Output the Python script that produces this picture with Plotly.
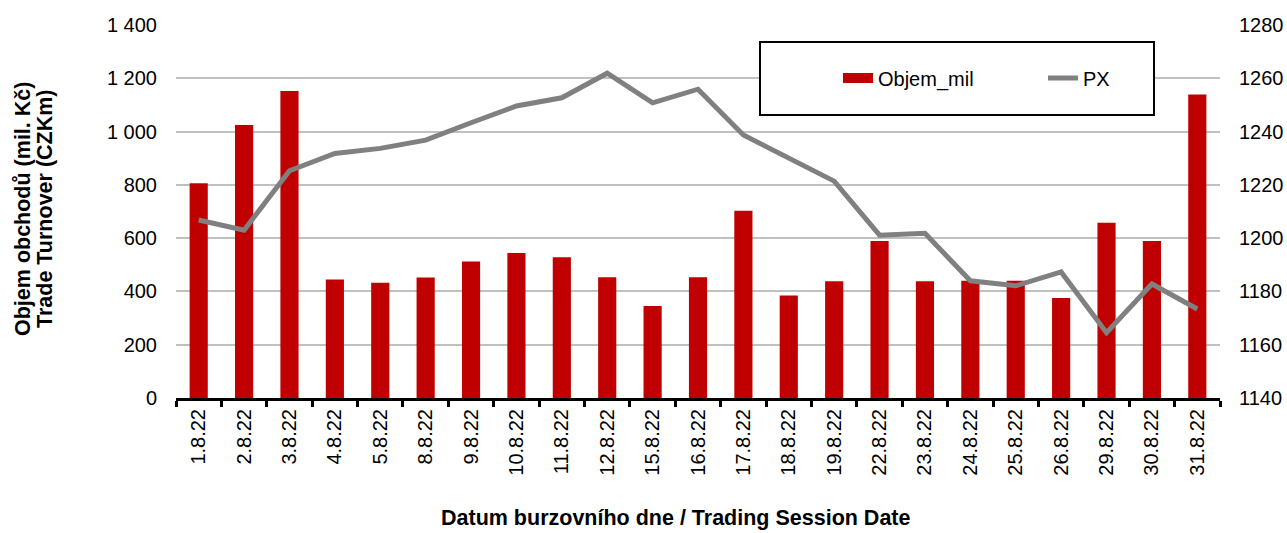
import plotly.graph_objects as go

dates = ["1.8.22", "2.8.22", "3.8.22", "4.8.22", "5.8.22", "8.8.22", "9.8.22", "10.8.22",
         "11.8.22", "12.8.22", "15.8.22", "16.8.22", "17.8.22", "18.8.22", "19.8.22",
         "22.8.22", "23.8.22", "24.8.22", "25.8.22", "26.8.22", "29.8.22", "30.8.22", "31.8.22"]
objem_mil = [806, 1025, 1152, 445, 433, 452, 512, 544, 528, 453, 345, 453, 703, 385, 438,
             589, 438, 440, 440, 375, 658, 589, 1139]
px_index = [1206.8, 1203.0, 1225.3, 1231.8, 1233.7, 1236.8, 1243.3, 1249.6, 1252.7, 1261.9,
            1250.8, 1255.9, 1238.7, 1230.3, 1221.4, 1201.1, 1201.8, 1184.0, 1182.1, 1187.3,
            1164.5, 1182.8, 1173.4]

FONT = "Liberation Sans, Arial, sans-serif"
W, H = 1287, 533
L, R, T, B = 176, 1220, 25, 398
pw, ph = R - L, B - T

def px_x(x):
    return (x - L) / pw

def px_y(y):
    return (B - y) / ph

fig = go.Figure()
fig.add_trace(go.Bar(x=dates, y=objem_mil, name="Objem_mil", marker_color="#C00000",
                     marker_line_width=0, showlegend=False, yaxis="y"))
# legend swatch for bars
fig.add_trace(go.Scatter(x=[None], y=[None], mode="lines", name="Objem_mil",
                         line=dict(color="#C00000", width=11), yaxis="y"))
fig.add_trace(go.Scatter(x=dates, y=px_index, mode="lines", name="PX",
                         line=dict(color="#808080", width=5), yaxis="y2"))

TITLE_SIZE = 21.5

fig.update_layout(
    width=W, height=H,
    margin=dict(l=L, r=W - R, t=T, b=H - B, autoexpand=False),
    paper_bgcolor="white", plot_bgcolor="white",
    font=dict(family=FONT, size=20, color="#000000"),
    separators=", ",
    bargap=0.6,
    xaxis=dict(type="category", showline=True, linecolor="#000000", linewidth=3,
               ticks="outside", tickson="boundaries", ticklen=6, tickwidth=3,
               tickcolor="#000000", tickangle=-90, showgrid=False, automargin=False,
               tickfont=dict(size=20, family=FONT, color="#000000")),
    yaxis=dict(range=[0, 1400], dtick=200, tick0=0, showgrid=True, gridcolor="#C0C0C0",
               gridwidth=2, separatethousands=True, tickformat=",d", zeroline=False,
               showline=False, ticks="", ticklabelstandoff=18, automargin=False,
               tickfont=dict(size=20)),
    yaxis2=dict(range=[1140, 1280], dtick=20, tick0=1140, overlaying="y", side="right",
                showgrid=False, zeroline=False, showline=False, ticks="",
                ticklabelstandoff=18, automargin=False, tickformat="d",
                tickfont=dict(size=20)),
    legend=dict(orientation="h", x=px_x(838), xanchor="left", y=px_y(78), yanchor="middle",
                bgcolor="rgba(0,0,0,0)", borderwidth=0, font=dict(size=20),
                entrywidth=160, entrywidthmode="pixels", itemwidth=30),
    shapes=[dict(type="rect", xref="paper", yref="paper",
                 x0=px_x(760), x1=px_x(1154), y0=px_y(115), y1=px_y(42),
                 line=dict(color="#000000", width=2), fillcolor="white", layer="above")],
    annotations=[
        dict(text="<b>Objem obchodů (mil. Kč)</b>", textangle=-90,
             xref="paper", yref="paper", x=px_x(23), y=px_y(209), xanchor="center",
             yanchor="middle", showarrow=False, font=dict(size=TITLE_SIZE, family=FONT)),
        dict(text="<b>Trade Turnover (CZKm)</b>", textangle=-90,
             xref="paper", yref="paper", x=px_x(45), y=px_y(209), xanchor="center",
             yanchor="middle", showarrow=False, font=dict(size=TITLE_SIZE, family=FONT)),
        dict(text="<b>Datum burzovního dne / Trading Session Date</b>",
             xref="paper", yref="paper", x=px_x(676), y=px_y(518), xanchor="center",
             yanchor="middle", showarrow=False, font=dict(size=TITLE_SIZE, family=FONT)),
    ],
)

fig.write_html("out.html", config={"displayModeBar": False},
               post_script="document.body.style.margin='0';")
